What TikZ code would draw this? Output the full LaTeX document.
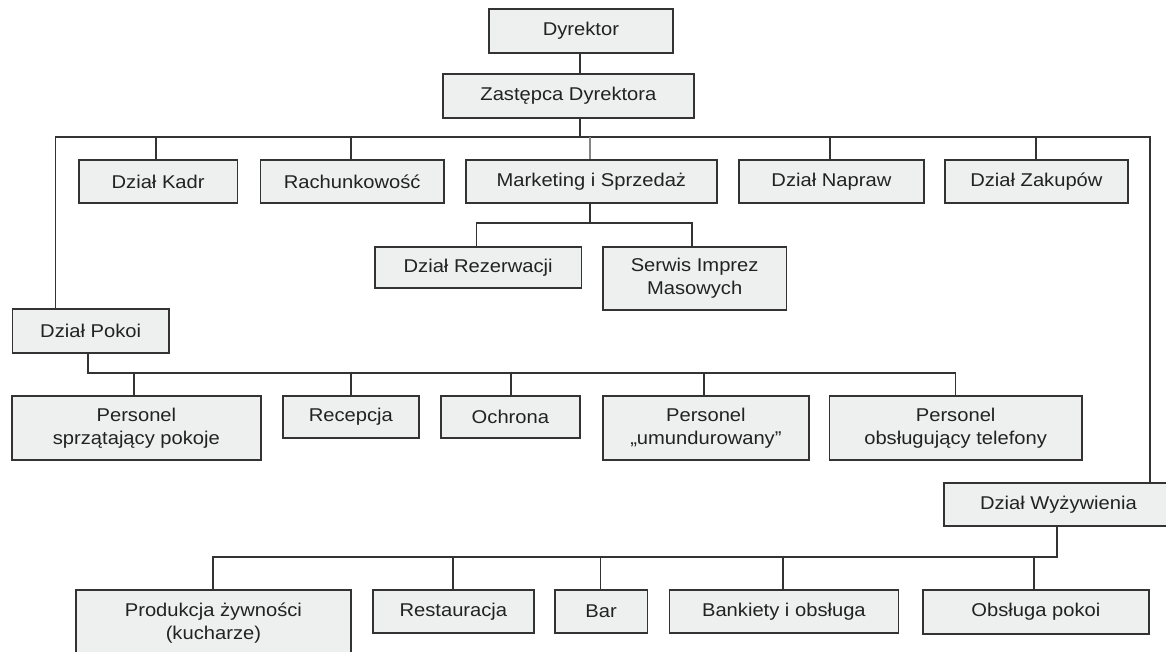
\documentclass[tikz,border=0pt]{standalone}
\usepackage{fontspec}
\setmainfont{Liberation Sans}[FakeStretch=1.09]
\definecolor{boxfill}{HTML}{EEF0F0}
\definecolor{ink}{HTML}{333333}
\definecolor{txt}{HTML}{222222}
\begin{document}
\begin{tikzpicture}[x=1pt,y=-1pt,
  box/.style={draw=ink, line width=1.8pt, fill=boxfill, anchor=north west, inner sep=0pt,
    align=center, text=txt, font=\fontsize{18.5}{23}\selectfont},
  conn/.style={draw=ink, line width=1.6pt}]
\useasboundingbox (0,0) rectangle (1166,651);
\fill[white] (0,0) rectangle (1166,651);
\begin{scope}
\clip (0,0) rectangle (1166,651);
% boxes
\node[box, minimum width=184pt, minimum height=44pt] (dyr) at (488,8) {Dyrektor};
\node[box, minimum width=251pt, minimum height=44pt] (zas) at (442,73) {Zastępca Dyrektora};
\node[box, minimum width=158.5pt, minimum height=43pt] (kadr) at (78,159) {Dział Kadr};
\node[box, minimum width=183.5pt, minimum height=43pt] (rach) at (259.5,159) {Rachunkowość};
\node[box, minimum width=251pt, minimum height=43pt] (mark) at (465,159) {Marketing i Sprzedaż};
\node[box, minimum width=185pt, minimum height=43pt] (napr) at (738,159) {Dział Napraw};
\node[box, minimum width=183pt, minimum height=43pt] (zak) at (944,159) {Dział Zakupów};
\node[box, minimum width=206.5pt, minimum height=41pt] (rez) at (374,246) {Dział Rezerwacji};
\node[box, minimum width=183.5pt, minimum height=63pt] (serw) at (602,246) {Serwis Imprez\\Masowych};
\node[box, minimum width=156.5pt, minimum height=44pt] (pokoi) at (11.5,308) {Dział Pokoi};
\node[box, minimum width=249pt, minimum height=64pt] (sprz) at (11,395) {Personel\\sprzątający pokoje};
\node[box, minimum width=136pt, minimum height=42pt] (rec) at (282,395) {Recepcja};
\node[box, minimum width=139pt, minimum height=42pt] (ochr) at (440,395) {Ochrona};
\node[box, minimum width=206pt, minimum height=64pt] (umun) at (602,395) {Personel\\„umundurowany”};
\node[box, minimum width=252.5pt, minimum height=64pt] (tel) at (828.5,395) {Personel\\obsługujący telefony};
\node[box, minimum width=229pt, minimum height=43pt] (wyz) at (943,482) {Dział Wyżywienia};
\node[box, minimum width=275pt, minimum height=66pt] (prod) at (75,589) {Produkcja żywności\\(kucharze)};
\node[box, minimum width=161pt, minimum height=43pt] (rest) at (372,589) {Restauracja};
\node[box, minimum width=92.5pt, minimum height=43pt] (bar) at (554,589) {Bar};
\node[box, minimum width=229pt, minimum height=43pt] (bank) at (668.5,589) {Bankiety i obsługa};
\node[box, minimum width=226pt, minimum height=44pt] (obs) at (922,589) {Obsługa pokoi};
% bus coordinates
\coordinate (tz) at (580,137);
\coordinate (tL) at (55.5,137);
\coordinate (tR) at (1150,137);
\coordinate (tKadr) at (156,137);
\coordinate (tRach) at (351,137);
\coordinate (tMark) at (590,137);
\coordinate (tNapr) at (830,137);
\coordinate (tZak) at (1036,137);
\coordinate (mS) at (590,223);
\coordinate (mL) at (476.5,223);
\coordinate (mR) at (692,223);
\coordinate (pS) at (88,373);
\coordinate (pSprz) at (134,373);
\coordinate (pRec) at (351,373);
\coordinate (pOchr) at (511,373);
\coordinate (pUmun) at (704,373);
\coordinate (pTel) at (955.5,373);
\coordinate (wS) at (1057,557);
\coordinate (wProd) at (213,557);
\coordinate (wRest) at (453,557);
\coordinate (wBar) at (600.5,557);
\coordinate (wBank) at (783,557);
\coordinate (wObs) at (1034,557);
% connectors
\draw[conn] (dyr.south -| tz) -- (zas.north -| tz);
\draw[conn] (zas.south -| tz) -- (tz);
\draw[conn] (pokoi.north -| tL) -- (tL) -- (tR) -- (wyz.north -| tR);
\draw[conn] (tKadr) -- (tKadr |- kadr.north);
\draw[conn] (tRach) -- (tRach |- rach.north);
\draw[conn, draw=ink!60] (tMark) -- (tMark |- mark.north);
\draw[conn] (tNapr) -- (tNapr |- napr.north);
\draw[conn] (tZak) -- (tZak |- zak.north);
\draw[conn] (mark.south -| mS) -- (mS);
\draw[conn] (rez.north -| mL) -- (mL) -- (mR) -- (serw.north -| mR);
\draw[conn] (pokoi.south -| pS) -- (pS) -- (pTel) -- (tel.north -| pTel);
\draw[conn] (pSprz) -- (pSprz |- sprz.north);
\draw[conn] (pRec) -- (pRec |- rec.north);
\draw[conn] (pOchr) -- (pOchr |- ochr.north);
\draw[conn] (pUmun) -- (pUmun |- umun.north);
\draw[conn] (wyz.south -| wS) -- (wS) -- (wProd) -- (prod.north -| wProd);
\draw[conn] (wRest) -- (wRest |- rest.north);
\draw[conn] (wBar) -- (wBar |- bar.north);
\draw[conn] (wBank) -- (wBank |- bank.north);
\draw[conn] (wObs) -- (wObs |- obs.north);
\end{scope}
\end{tikzpicture}
\end{document}
